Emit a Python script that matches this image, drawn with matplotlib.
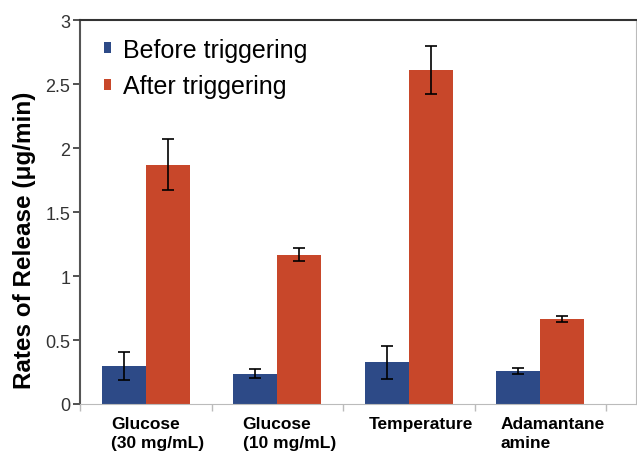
import matplotlib.pyplot as plt
import matplotlib.transforms as mtransforms
import numpy as np

plt.rcParams['font.family'] = ['Liberation Sans', 'DejaVu Sans']

# release rates per trigger (ug/min) with error bars
categories = ["Glucose\n(30 mg/mL)", "Glucose\n(10 mg/mL)", "Temperature", "Adamantane\namine"]
before = [0.30, 0.237, 0.325, 0.258]
before_err = [0.11, 0.035, 0.13, 0.026]
after = [1.87, 1.167, 2.61, 0.664]
after_err = [0.20, 0.05, 0.19, 0.024]

blue = "#2D4A87"
red = "#C8472A"

fig = plt.figure(figsize=(6.37, 4.52), dpi=100)
ax = fig.add_axes([80 / 637, (452 - 405) / 452, (636 - 80) / 637, (405 - 21) / 452])

x = np.arange(len(categories))
w = 0.335
ax.bar(x - w / 2, before, w, color=blue, label="Before triggering", zorder=2)
ax.bar(x + w / 2, after, w, color=red, label="After triggering", zorder=2)
ax.errorbar(x - w / 2, before, yerr=before_err, fmt="none", ecolor="black",
            elinewidth=1.2, capsize=4, capthick=1.2, zorder=3)
ax.errorbar(x + w / 2, after, yerr=after_err, fmt="none", ecolor="black",
            elinewidth=1.2, capsize=4, capthick=1.2, zorder=3)

ax.set_ylim(0, 3)
ax.set_xlim(-0.5, 3.728)
ax.set_yticks([0, 0.5, 1, 1.5, 2, 2.5, 3])
ax.set_yticklabels(["0", "0.5", "1", "1.5", "2", "2.5", "3"])
ax.tick_params(axis="y", labelsize=13, colors="#333333", length=5, width=1.2, pad=2)

ax.set_xticks(x)
ax.set_xticklabels(categories, fontsize=12.5, fontweight="bold", multialignment="left",
                   linespacing=1.3)
ax.tick_params(axis="x", which="major", length=0, pad=9)
ax.set_xticks(np.arange(-0.5, 4, 1), minor=True)
ax.tick_params(axis="x", which="minor", length=5, color="#bbbbbb", width=1)
offset = mtransforms.ScaledTranslation(12 / 100, 0, fig.dpi_scale_trans)
for lab in ax.get_xticklabels():
    lab.set_transform(lab.get_transform() + offset)

ax.set_ylabel("Rates of Release (\u03bcg/min)", fontsize=17.5, fontweight="bold")
ax.yaxis.set_label_coords(-0.079, 0.43)

ax.spines["left"].set_color("#555555")
ax.spines["left"].set_linewidth(1.5)
ax.spines["top"].set_color("#333333")
ax.spines["top"].set_linewidth(1.5)
ax.spines["bottom"].set_color("#bbbbbb")
ax.spines["right"].set_color("#bbbbbb")

ax.legend(loc="upper left", bbox_to_anchor=(0.025, 0.98), fontsize=18, frameon=False,
          handlelength=0.3, handleheight=0.3, handletextpad=0.45, labelspacing=0.5,
          borderaxespad=0)

fig.savefig("out.png", dpi=100)
